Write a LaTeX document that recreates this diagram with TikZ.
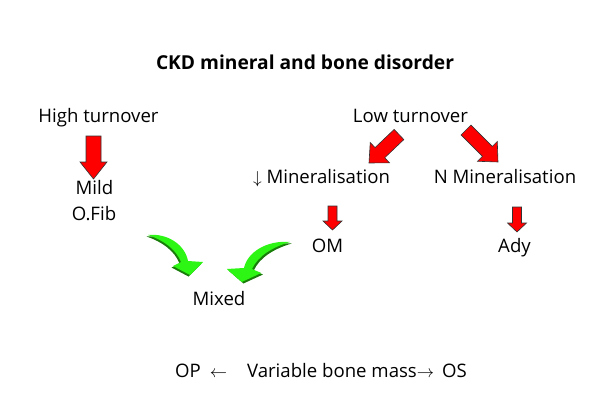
\documentclass[tikz,border=0pt]{standalone}
\usepackage{fontspec}
\setmainfont{Open Sans}
\usetikzlibrary{calc}
\definecolor{swoopgreen}{RGB}{45,245,20}
\definecolor{swoopdark}{RGB}{25,125,10}
\tikzset{
  lbl/.style={anchor=base, inner sep=0pt, font=\fontsize{18.6}{22}\selectfont},
  ttl/.style={anchor=base, inner sep=0pt, font=\fontsize{19.2}{22}\selectfont\bfseries},
  % block arrow between two points: {shaft half}{head half}{head length}
  redblock/.style n args={3}{draw=black!80, line width=0.6pt, fill=red,
    to path={($(\tikztotarget)!#3!(\tikztostart)$) coordinate (tmpbase)
      ($(\tikztostart)!#1!90:(\tikztotarget)$) -- ($(tmpbase)!#1!90:(\tikztotarget)$)
      -- ($(tmpbase)!#2!90:(\tikztotarget)$) -- (\tikztotarget)
      -- ($(tmpbase)!#2!-90:(\tikztotarget)$) -- ($(tmpbase)!#1!-90:(\tikztotarget)$)
      -- ($(\tikztostart)!#1!-90:(\tikztotarget)$) -- cycle}},
  pics/swoosh/.style={code={
    \fill[swoopdark, shift={(-1.5,1.5)}] (0,0) .. controls (20,-2) and (37,10) .. (40,26)
      -- (55,27) -- (42,40) -- (25,31) -- (33,27) .. controls (28,14) and (15,5) .. (0,0) -- cycle;
    \fill[swoopgreen] (0,0) .. controls (20,-2) and (37,10) .. (40,26)
      -- (55,27) -- (42,40) -- (25,31) -- (33,27) .. controls (28,14) and (15,5) .. (0,0) -- cycle;
  }},
}
\begin{document}
\begin{tikzpicture}[x=1pt, y=-1pt]
  \fill[white] (0,0) rectangle (600,404);
  \useasboundingbox (0,0) rectangle (600,404);

  % Title
  \node[ttl] (title) at (305,70) {CKD mineral and bone disorder};

  % High turnover branch
  \node[lbl] (high) at (98.5,122) {High turnover};
  \node[lbl] (mild) at (94.5,194) {Mild};
  \node[lbl] (ofib) at (94,220) {O.Fib};

  % Low turnover branch
  \node[lbl] (low) at (410.5,122) {Low turnover};
  \node[lbl] (minlo) at (321.5,183) {$\downarrow$ Mineralisation};
  \node[lbl] (minn) at (505,183) {N Mineralisation};
  \node[lbl] (om) at (327.5,252) {OM};
  \node[lbl] (ady) at (514.5,252) {Ady};

  % Bottom
  \node[lbl] (mixed) at (219,305) {Mixed};
  \node[lbl] (mass) at (321,377) {OP\hspace{9pt}$\leftarrow$\hspace{20pt}Variable bone mass$\rightarrow$\hspace{8pt}OS};

  % Arrow ends
  \coordinate (hiS) at (93.5,136);  \coordinate (hiT) at (93.5,179);
  \coordinate (loS) at (399,134.5); \coordinate (loT) at (369,163);
  \coordinate (lnS) at (466,130);   \coordinate (lnT) at (498,162);
  \coordinate (omS) at (332.5,206); \coordinate (omT) at (332.5,230);
  \coordinate (adS) at (517,207);   \coordinate (adT) at (517,232);

  % Red arrows
  \draw[redblock={7.5pt}{13.5pt}{17pt}] (hiS) to (hiT);
  \draw[redblock={7pt}{14pt}{15pt}] (loS) to (loT);
  \draw[redblock={7pt}{14pt}{15pt}] (lnS) to (lnT);
  \draw[redblock={4.5pt}{9.5pt}{9pt}] (omS) to (omT);
  \draw[redblock={4.5pt}{9.5pt}{9pt}] (adS) to (adT);

  % Green arrows
  \pic (swl) at (148,235) {swoosh};
  \pic[xscale=-1.15] (swr) at (290,242) {swoosh};
\end{tikzpicture}
\end{document}
